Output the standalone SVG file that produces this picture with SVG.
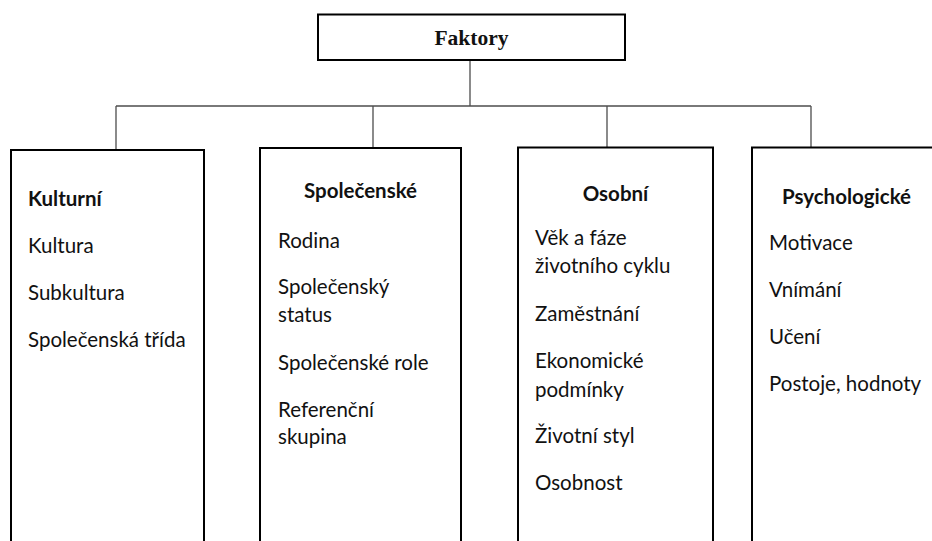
<svg xmlns="http://www.w3.org/2000/svg" width="932" height="541" viewBox="0 0 932 541">
<style>
.box{fill:#fff;stroke:#000;stroke-width:2}
.conn{fill:none;stroke:#4d4d4d;stroke-width:1.3}
.t{font-family:Lato,"Open Sans","Liberation Sans",sans-serif;font-size:20.5px;fill:#111}
.h{font-family:Lato,"Open Sans","Liberation Sans",sans-serif;font-size:20.5px;font-weight:bold;fill:#111}
.c{text-anchor:middle}
.top{font-family:"Liberation Serif","Times New Roman",serif;font-size:21.5px;font-weight:bold;fill:#111;text-anchor:middle}
</style>
<rect width="932" height="541" fill="#fff"/>
<g id="connectors">
<path class="conn" d="M470,60 V106 M116,106 H811 M116,106 V149 M373,106 V148 M607,106 V147 M811,106 V147"/>
</g>
<g id="faktory">
<rect class="box" x="318" y="14.5" width="307" height="45.5"/>
<text class="top" x="471.5" y="45">Faktory</text>
</g>
<g id="kulturni">
<rect class="box" x="11" y="150" width="193" height="420"/>
<text class="h" x="28" y="206">Kulturní</text>
<text class="t" x="28" y="253">Kultura</text>
<text class="t" x="28" y="300">Subkultura</text>
<text class="t" x="28" y="347">Společenská třída</text>
</g>
<g id="spolecenske">
<rect class="box" x="260" y="148" width="201" height="420"/>
<text class="h c" x="360.5" y="198">Společenské</text>
<text class="t" x="278" y="248">Rodina</text>
<text class="t" x="278" y="294">Společenský</text>
<text class="t" x="278" y="322">status</text>
<text class="t" x="278" y="370">Společenské role</text>
<text class="t" x="278" y="417">Referenční</text>
<text class="t" x="278" y="444">skupina</text>
</g>
<g id="osobni">
<rect class="box" x="518" y="147.5" width="195" height="420"/>
<text class="h c" x="615.5" y="201">Osobní</text>
<text class="t" x="535" y="245">Věk a fáze</text>
<text class="t" x="535" y="273">životního cyklu</text>
<text class="t" x="535" y="321">Zaměstnání</text>
<text class="t" x="535" y="368">Ekonomické</text>
<text class="t" x="535" y="397">podmínky</text>
<text class="t" x="535" y="443">Životní styl</text>
<text class="t" x="535" y="490">Osobnost</text>
</g>
<g id="psychologicke">
<rect class="box" x="752" y="147.5" width="200" height="420"/>
<text class="h c" x="846.5" y="204">Psychologické</text>
<text class="t" x="769" y="250">Motivace</text>
<text class="t" x="769" y="297">Vnímání</text>
<text class="t" x="769" y="344">Učení</text>
<text class="t" x="769" y="391">Postoje, hodnoty</text>
</g>
</svg>
